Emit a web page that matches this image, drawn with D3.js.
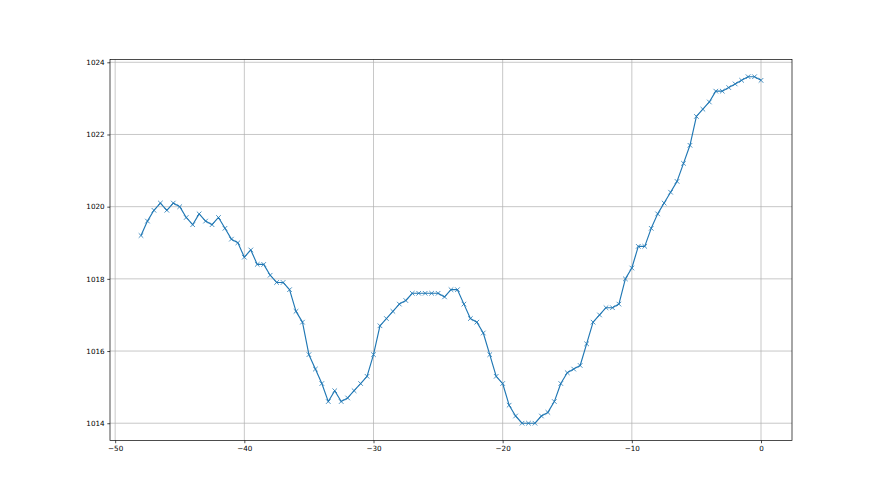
<!DOCTYPE html>
<html>
<head>
<meta charset="utf-8">
<script src="https://cdn.jsdelivr.net/npm/d3@7"></script>
<style>
  html, body { margin: 0; padding: 0; background: #fff; }
  svg { display: block; }
  text { font-family: "DejaVu Sans", sans-serif; }
</style>
</head>
<body>
<svg id="chart" width="880" height="495"></svg>
<script>
// Hours relative to now (step 0.5 h)
const hours = d3.range(-48, 0.001, 0.5).map(v => +v.toFixed(1));
// Pressure values (hPa)
const pressure = [
  1019.2, 1019.6, 1019.9, 1020.1, 1019.9, 1020.1, 1020.0, 1019.7, 1019.5, 1019.8,
  1019.6, 1019.5, 1019.7, 1019.4, 1019.1, 1019.0, 1018.6, 1018.8, 1018.4, 1018.4,
  1018.1, 1017.9, 1017.9, 1017.7, 1017.1, 1016.8, 1015.9, 1015.5, 1015.1, 1014.6,
  1014.9, 1014.6, 1014.7, 1014.9, 1015.1, 1015.3, 1015.9, 1016.7, 1016.9, 1017.1,
  1017.3, 1017.4, 1017.6, 1017.6, 1017.6, 1017.6, 1017.6, 1017.5, 1017.7, 1017.7,
  1017.3, 1016.9, 1016.8, 1016.5, 1015.9, 1015.3, 1015.1, 1014.5, 1014.2, 1014.0,
  1014.0, 1014.0, 1014.2, 1014.3, 1014.6, 1015.1, 1015.4, 1015.5, 1015.6, 1016.2,
  1016.8, 1017.0, 1017.2, 1017.2, 1017.3, 1018.0, 1018.3, 1018.9, 1018.9, 1019.4,
  1019.8, 1020.1, 1020.4, 1020.7, 1021.2, 1021.7, 1022.5, 1022.7, 1022.9, 1023.2,
  1023.2, 1023.3, 1023.4, 1023.5, 1023.6, 1023.6, 1023.5
];
const xTicks = [-50, -40, -30, -20, -10, 0];
const yTicks = [1014, 1016, 1018, 1020, 1022, 1024];

const data = hours.map((h, i) => ({ x: h, y: pressure[i] }));

const svg = d3.select("#chart");
const pL = 110, pR = 792, pT = 59.4, pB = 440.55;

const xmin = d3.min(hours), xmax = d3.max(hours);
const ymin = d3.min(pressure), ymax = d3.max(pressure);
const xm = (xmax - xmin) * 0.05, ym = (ymax - ymin) * 0.05;

const x = d3.scaleLinear().domain([xmin - xm, xmax + xm]).range([pL, pR]);
const y = d3.scaleLinear().domain([ymin - ym, ymax + ym]).range([pB, pT]);

const fmt = d => (d < 0 ? "\u2212" + Math.abs(d) : String(d));

// grid
const grid = svg.append("g");
grid.selectAll(".gx").data(xTicks).join("line")
  .attr("x1", d => x(d)).attr("x2", d => x(d))
  .attr("y1", pT).attr("y2", pB)
  .attr("stroke", "#b0b0b0").attr("stroke-width", 0.7);
grid.selectAll(".gy").data(yTicks).join("line")
  .attr("x1", pL).attr("x2", pR)
  .attr("y1", d => y(d)).attr("y2", d => y(d))
  .attr("stroke", "#b0b0b0").attr("stroke-width", 0.7);

// axes
const xAxis = d3.axisBottom(x).tickValues(xTicks).tickFormat(fmt).tickSizeOuter(0).tickSize(2.7).tickPadding(3);
const yAxis = d3.axisLeft(y).tickValues(yTicks).tickFormat(d => d).tickSizeOuter(0).tickSize(2.7).tickPadding(2.7);

const gx = svg.append("g").attr("transform", `translate(0,${pB})`).call(xAxis);
const gy = svg.append("g").attr("transform", `translate(${pL},0)`).call(yAxis);
[gx, gy].forEach(g => {
  g.select(".domain").remove();
  g.selectAll(".tick line").attr("stroke", "#000").attr("stroke-width", 0.7);
  g.selectAll(".tick text").attr("fill", "#000").style("font-size", "7.2px")
    .style("font-family", "'DejaVu Sans', sans-serif");
});

// line
svg.append("path").datum(data)
  .attr("fill", "none").attr("stroke", "#1f77b4").attr("stroke-width", 1.15)
  .attr("stroke-linejoin", "round")
  .attr("d", d3.line().x(d => x(d.x)).y(d => y(d.y)));

// markers 'x'
const s = 2.3;
svg.append("g").selectAll("path").data(data).join("path")
  .attr("d", d => {
    const cx = x(d.x), cy = y(d.y);
    return `M${cx - s},${cy - s}L${cx + s},${cy + s}M${cx - s},${cy + s}L${cx + s},${cy - s}`;
  })
  .attr("stroke", "#1f77b4").attr("stroke-width", 0.8).attr("fill", "none");

// spines
svg.append("rect").attr("x", pL).attr("y", pT)
  .attr("width", pR - pL).attr("height", pB - pT)
  .attr("fill", "none").attr("stroke", "#000").attr("stroke-width", 0.7);
</script>
</body>
</html>
